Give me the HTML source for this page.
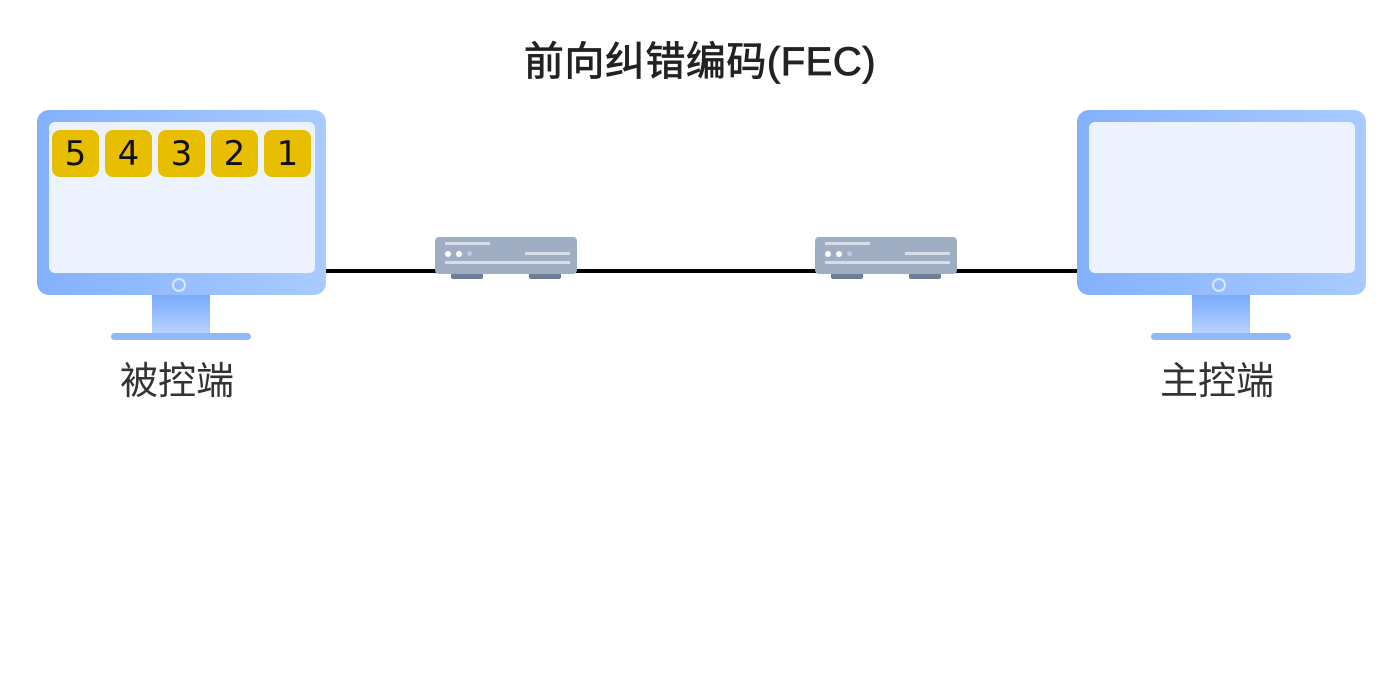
<!DOCTYPE html>
<html><head><meta charset="utf-8"><style>
body{margin:0;width:1400px;height:700px;background:#fff;position:relative;overflow:hidden;font-family:"Liberation Sans","Noto Sans CJK SC",sans-serif}
.a{position:absolute}
.mon{position:absolute;top:110px;width:289px;height:185px;border-radius:12px;background:linear-gradient(90deg,#84b1fd,#a9cbfe)}
.scr{position:absolute;left:12px;top:12px;width:266px;height:151px;border-radius:6px;background:#ecf3fe}
.dot{position:absolute;left:135px;top:168px;border:2px solid #d9e7ff;border-radius:50%;box-sizing:border-box;width:14px;height:14px}
.neck{position:absolute;top:295px;width:58px;height:38px;background:linear-gradient(180deg,#7aaafd,#b6d2fe)}
.base{position:absolute;top:333px;width:140px;height:7px;border-radius:4px;background:#8fb8fd}
.b{position:absolute;top:130px;width:47px;height:47px;border-radius:8px;background:#e8be00;color:#111;font-size:34px;line-height:49px;text-align:center;font-family:"DejaVu Sans",sans-serif}
.lbl{position:absolute;font-size:38px;color:#333;width:200px;text-align:center}
.r{position:absolute;top:237px;width:142px;height:37px;border-radius:4px;background:#a0aec4}
.r i{position:absolute;background:#d6dde8;display:block}
.f{position:absolute;top:274px;width:32px;height:5px;background:#6d7e97;border-radius:0 0 2px 2px}
</style></head><body>
<div class="a" style="left:0;width:1400px;top:29px;text-align:center;font-size:40px;color:#222;-webkit-text-stroke:0.8px #222;letter-spacing:0.5px">前向纠错编码(FEC)</div>
<div class="a" style="left:320px;top:269px;width:762px;height:4px;background:#000"></div>

<div class="mon" style="left:37px"><div class="scr"></div><div class="dot"></div></div>
<div class="neck" style="left:152px"></div><div class="base" style="left:111px"></div>
<div class="b" style="left:52px">5</div><div class="b" style="left:105px">4</div><div class="b" style="left:158px">3</div><div class="b" style="left:211px">2</div><div class="b" style="left:264px">1</div>
<div class="lbl" style="left:77px;top:350px">被控端</div>

<div class="mon" style="left:1077px"><div class="scr"></div><div class="dot"></div></div>
<div class="neck" style="left:1192px"></div><div class="base" style="left:1151px"></div>
<div class="lbl" style="left:1117px;top:350px">主控端</div>

<div class="r" style="left:435px"><i style="left:10px;top:5px;width:45px;height:3px"></i><i style="left:10px;top:14px;width:6px;height:6px;border-radius:50%;background:#fff"></i><i style="left:21px;top:14px;width:6px;height:6px;border-radius:50%;background:#fff"></i><i style="left:32px;top:14px;width:5px;height:5px;border-radius:50%;background:#c0cad8"></i><i style="left:90px;top:15px;width:45px;height:3px"></i><i style="left:10px;top:24px;width:125px;height:3px"></i></div>
<div class="f" style="left:451px"></div><div class="f" style="left:529px"></div>
<div class="r" style="left:815px"><i style="left:10px;top:5px;width:45px;height:3px"></i><i style="left:10px;top:14px;width:6px;height:6px;border-radius:50%;background:#fff"></i><i style="left:21px;top:14px;width:6px;height:6px;border-radius:50%;background:#fff"></i><i style="left:32px;top:14px;width:5px;height:5px;border-radius:50%;background:#c0cad8"></i><i style="left:90px;top:15px;width:45px;height:3px"></i><i style="left:10px;top:24px;width:125px;height:3px"></i></div>
<div class="f" style="left:831px"></div><div class="f" style="left:909px"></div>
</body></html>
